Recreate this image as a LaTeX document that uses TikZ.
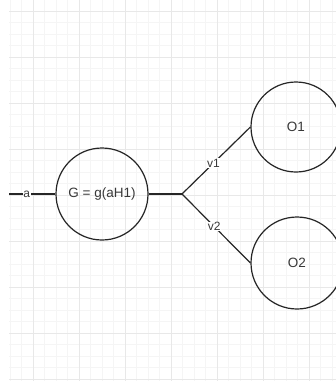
\documentclass[tikz,border=0pt]{standalone}
\usepackage{fontspec}
\setmainfont{Liberation Sans}
\begin{document}
\begin{tikzpicture}[x=1pt,y=-1pt,
  minorgrid/.style={draw=black!4,line width=0.8pt},
  majorgrid/.style={draw=black!9,line width=0.8pt},
  ball/.style={circle,draw=black!85,line width=1.2pt,minimum size=92pt,inner sep=0pt,
    text=black!78,font=\fontsize{13.5}{15}\selectfont},
  wire/.style={draw=black!85,line width=1.2pt},
  tag/.style={fill=white,inner sep=0.6pt,font=\fontsize{12}{14}\selectfont,text=black!78}]
  \useasboundingbox (0,0) rectangle (336,381);
  \clip (0,0) rectangle (336,381);
  \fill[white] (0,0) rectangle (336,381);
  % background grid
  \foreach \i in {0,...,28}
    \draw[minorgrid] ({10+11.5*\i},0) -- ({10+11.5*\i},381);
  \foreach \j in {0,...,32}
    \draw[minorgrid] (9,{11+11.5*\j}) -- (336,{11+11.5*\j});
  \foreach \i in {0,...,6}
    \draw[majorgrid] ({33+46*\i},0) -- ({33+46*\i},381);
  \foreach \j in {0,...,8}
    \draw[majorgrid] (9,{11+46*\j}) -- (336,{11+46*\j});
  % nodes
  \node[ball] (G) at (102,194) {G = g(aH1)};
  \node[ball,minimum size=90pt] (O1) at (296,127) {O1};
  \node[ball] (O2) at (297,263) {O2};
  \coordinate (in) at (9,194);
  \coordinate (J) at (182,194);
  % connectors
  \draw[wire] (in) -- node[tag,pos=0.38] {a} (G.west);
  \draw[wire] (G.east) -- (J);
  \draw[wire] (J) -- node[tag,pos=0.46] {v1} (O1.west);
  \draw[wire] (J) -- node[tag,pos=0.47] {v2} (O2.west);
\end{tikzpicture}
\end{document}
